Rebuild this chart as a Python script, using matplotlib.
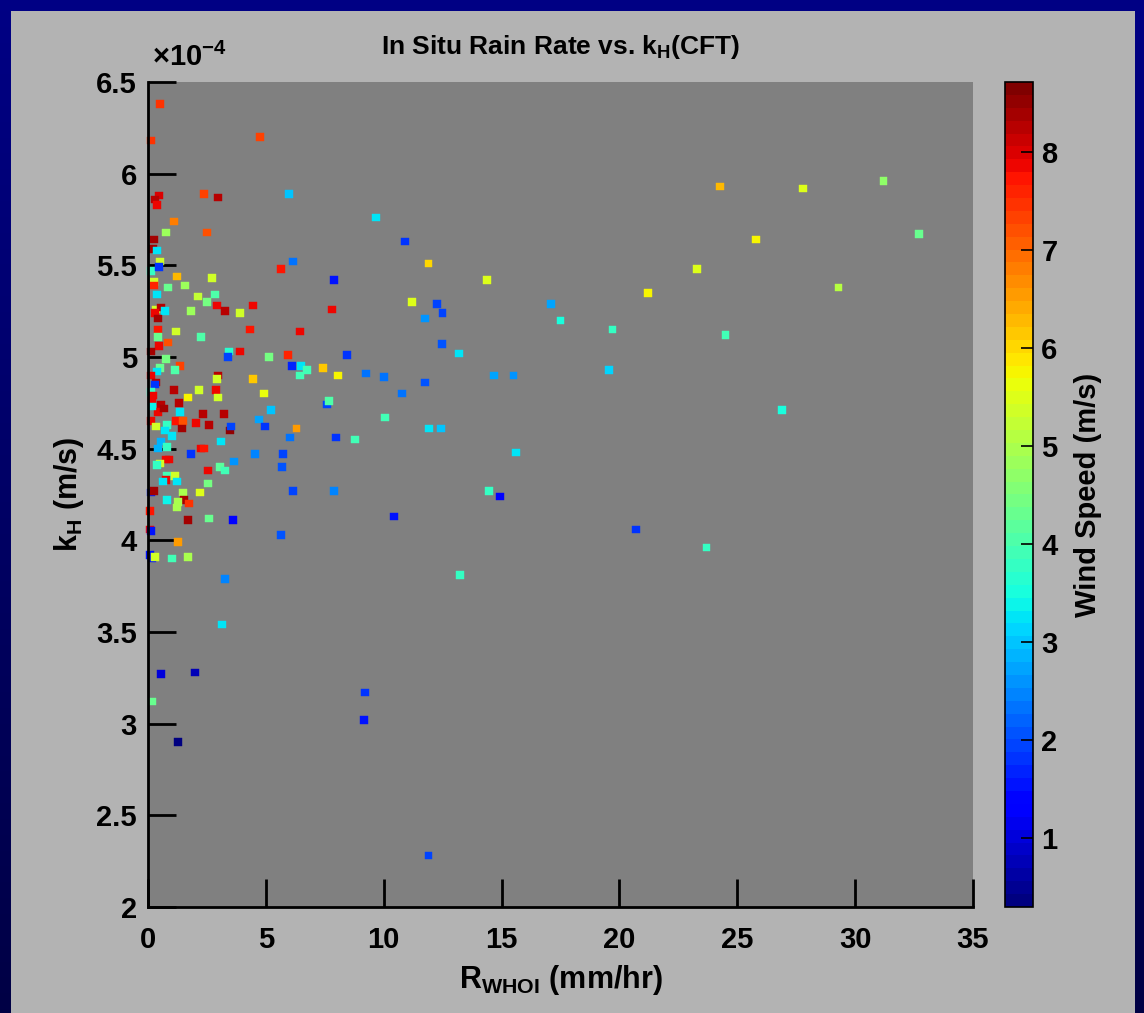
import numpy as np
import matplotlib
matplotlib.use("Agg")
import matplotlib.pyplot as plt
from matplotlib.patches import Rectangle
from matplotlib.ticker import FuncFormatter, MultipleLocator

plt.rcParams['font.family'] = ['Liberation Sans', 'DejaVu Sans']
plt.rcParams['font.weight'] = 'bold'
plt.rcParams['mathtext.fontset'] = 'custom'
plt.rcParams['mathtext.rm'] = 'Liberation Sans:bold'
plt.rcParams['mathtext.it'] = 'Liberation Sans:bold'
plt.rcParams['mathtext.bf'] = 'Liberation Sans:bold'

# rain rate (mm/hr), gas transfer velocity (1e-4 m/s), wind speed (m/s)
rain = [
    4.75, 2.97, 2.38, 5.98, 9.67, 10.9, 11.9, 6.15, 5.64, 7.9, 14.38, 11.2,
    12.26, 12.5, 11.75, 17.1, 17.5, 7.8, 6.45, 24.27, 27.8, 31.2, 32.7, 25.8,
    23.3, 21.2, 29.3, 19.7, 24.5, 19.55, 26.9, 20.7, 23.7,
    12.47, 13.2, 5.94, 8.44, 6.1, 6.5, 6.74, 6.45, 7.42, 8.06, 9.25, 10.0,
    11.75, 14.68, 15.5, 10.78, 7.6, 7.68, 10.05, 11.92, 12.43, 6.3, 6.02,
    7.98, 8.78, 5.73, 5.68, 15.6, 6.15, 7.9, 14.47, 14.93, 10.44, 5.64, 13.24,
    3.27, 3.14, 0.55, 2.0, 0.17, 1.27, 9.2, 9.16, 11.9,
    0.51, 0.13, 0.47, 0.3, 0.38, 1.1, 0.76, 2.5, 0.25, 0.21, 0.38, 0.51,
    0.13, 0.47, 0.25, 0.25, 1.23, 2.72, 0.85, 1.57, 0.38, 2.12, 2.84, 2.5,
    0.34, 0.55, 0.3, 0.72, 1.82, 2.93, 3.27, 3.9, 4.45, 0.42, 0.42, 1.19,
    2.25, 4.33,
    0.42, 0.47, 0.85, 0.13, 0.76, 3.44, 3.4, 3.9, 5.13, 0.51, 1.36, 1.14,
    0.38, 0.13, 2.97, 2.93, 0.34, 0.3, 4.45, 1.1, 2.16, 2.88, 4.92, 0.13,
    0.21, 1.7, 2.97, 0.17, 0.55, 1.32, 0.42, 0.68, 1.36, 0.17, 2.33, 3.22,
    5.22, 4.71, 0.13, 1.19, 1.48, 2.04, 2.59, 1.44, 3.48, 3.52, 4.96, 0.34,
    0.8, 0.72, 1.02, 0.55, 0.8, 0.42, 3.1, 1.82, 2.25, 2.38, 0.76, 0.89,
    0.51, 0.38, 3.65, 4.54, 2.55, 3.06, 3.27, 0.8, 1.14, 0.76, 0.64, 1.23,
    2.55, 0.13, 0.25, 1.48, 2.21, 1.53, 1.27, 1.74, 0.8, 1.23, 1.7, 2.59,
    3.6, 0.08, 0.08, 0.13, 1.27, 0.08, 0.17, 0.3, 1.02, 1.7,
]
kh_e4 = [
    6.20, 5.87, 5.89, 5.89, 5.76, 5.63, 5.51, 5.52, 5.48, 5.42, 5.42, 5.30,
    5.29, 5.24, 5.21, 5.29, 5.20, 5.26, 5.14, 5.93, 5.92, 5.96, 5.67, 5.64,
    5.48, 5.35, 5.38, 5.15, 5.12, 4.93, 4.71, 4.06, 3.96,
    5.07, 5.02, 5.01, 5.01, 4.95, 4.95, 4.93, 4.90, 4.94, 4.90, 4.91, 4.89,
    4.86, 4.90, 4.90, 4.80, 4.74, 4.76, 4.67, 4.61, 4.61, 4.61, 4.56,
    4.56, 4.55, 4.47, 4.40, 4.48, 4.27, 4.27, 4.27, 4.24, 4.13, 4.03, 3.81,
    3.79, 3.54, 3.27, 3.28, 3.12, 2.90, 3.17, 3.02, 2.28,
    6.38, 6.18, 5.88, 5.86, 5.83, 5.74, 5.68, 5.68, 5.64, 5.59, 5.58, 5.52,
    5.47, 5.49, 5.41, 5.39, 5.44, 5.43, 5.38, 5.39, 5.34, 5.33, 5.34, 5.30,
    5.26, 5.27, 5.24, 5.25, 5.25, 5.28, 5.25, 5.24, 5.28, 5.21, 5.15, 5.14,
    5.11, 5.15,
    5.11, 5.06, 5.08, 5.03, 4.99, 5.03, 5.00, 5.03, 5.00, 4.94, 4.95, 4.93,
    4.92, 4.90, 4.90, 4.88, 4.86, 4.85, 4.88, 4.82, 4.82, 4.82, 4.80, 4.81,
    4.79, 4.78, 4.78, 4.76, 4.74, 4.75, 4.70, 4.72, 4.70, 4.73, 4.69, 4.69,
    4.71, 4.66, 4.65, 4.65, 4.65, 4.64, 4.63, 4.61, 4.60, 4.62, 4.62, 4.62,
    4.63, 4.60, 4.57, 4.54, 4.51, 4.50, 4.54, 4.47, 4.50, 4.50, 4.44, 4.44,
    4.42, 4.41, 4.43, 4.47, 4.38, 4.40, 4.38, 4.35, 4.35, 4.33, 4.32, 4.32,
    4.31, 4.26, 4.27, 4.26, 4.26, 4.22, 4.21, 4.20, 4.22, 4.18, 4.11, 4.12,
    4.11, 4.16, 4.06, 4.05, 3.99, 3.92, 3.90, 3.91, 3.90, 3.91,
]
wind = [
    7.3, 8.3, 7.3, 3.0, 3.3, 1.8, 6.0, 2.4, 7.7, 1.5, 5.5, 5.5,
    1.9, 2.0, 2.6, 2.7, 3.5, 7.8, 7.8, 6.3, 5.5, 4.7, 4.3, 5.8,
    5.5, 5.8, 5.1, 3.8, 3.9, 3.1, 3.5, 1.8, 3.8,
    2.1, 3.3, 7.6, 1.8, 1.7, 3.3, 3.9, 3.9, 6.1, 5.7, 2.4, 2.4,
    2.1, 2.7, 2.6, 2.4, 2.0, 4.1, 3.9, 3.2, 3.0, 6.6, 2.3,
    1.8, 3.9, 2.0, 2.1, 3.3, 2.0, 2.5, 3.8, 1.3, 1.6, 2.1, 3.8,
    2.5, 3.3, 1.0, 0.8, 4.3, 0.4, 1.8, 1.6, 2.0,
    7.5, 7.4, 8.0, 8.3, 7.9, 6.8, 4.8, 7.2, 8.4, 8.4, 3.3, 5.3,
    3.8, 1.8, 5.3, 7.6, 6.3, 5.4, 4.3, 4.8, 3.3, 5.2, 4.1, 4.4,
    5.3, 8.3, 7.8, 3.3, 4.8, 7.8, 8.2, 5.3, 7.8, 8.4, 7.7, 5.3,
    4.0, 7.7,
    4.3, 7.8, 7.2, 8.4, 4.4, 3.6, 2.0, 7.8, 4.4, 4.3, 7.3, 4.0,
    3.3, 7.8, 8.3, 5.4, 8.3, 1.8, 6.1, 8.2, 5.4, 7.8, 5.6, 3.8,
    7.8, 5.8, 5.4, 7.8, 8.3, 8.3, 7.8, 8.4, 3.3, 3.4, 8.3, 8.2,
    3.0, 2.7, 7.8, 7.7, 7.2, 7.8, 8.2, 8.4, 8.5, 2.0, 1.8, 5.4,
    3.8, 3.3, 3.3, 2.8, 3.8, 2.9, 3.3, 1.8, 7.8, 7.7, 7.8, 7.9,
    5.4, 3.8, 2.6, 2.5, 7.8, 4.2, 3.9, 3.9, 5.3, 7.8, 3.3, 3.3,
    4.4, 1.7, 8.4, 5.0, 5.5, 8.4, 5.0, 7.5, 3.4, 5.0, 8.4, 4.3,
    1.4, 7.7, 7.8, 1.6, 6.5, 1.5, 1.6, 5.4, 3.9, 5.0,
]

W, H = 1144, 1013
fig = plt.figure(figsize=(W / 100, H / 100), dpi=100)

# navy slide background with a grey panel
bg = fig.add_axes([0, 0, 1, 1], zorder=-10)
grad = np.linspace(0, 1, 256).reshape(-1, 1)
bg.imshow(np.dstack([np.zeros_like(grad), np.zeros_like(grad),
                     0.52 - 0.25 * grad]), aspect='auto', extent=[0, 1, 0, 1])
bg.add_patch(Rectangle((11 / W, 0), (1135 - 11) / W, 1 - 11 / H,
                       facecolor='#b3b3b3', edgecolor='none'))
bg.set_xlim(0, 1)
bg.set_ylim(0, 1)
bg.axis('off')

ax = fig.add_axes([148 / W, 1 - 907 / H, (973 - 148) / W, (907 - 82) / H])
ax.set_facecolor('#808080')

cmap = plt.get_cmap('jet', 64)
sc = ax.scatter(rain, np.array(kh_e4) * 1e-4, c=wind, cmap=cmap,
                vmin=0.3, vmax=8.71, marker='s', s=30, linewidths=0.3,
                edgecolors='face', clip_on=False, zorder=3)

ax.set_xlim(0, 35)
ax.set_ylim(2e-4, 6.5e-4)
ax.xaxis.set_major_locator(MultipleLocator(5))
ax.yaxis.set_major_locator(MultipleLocator(0.5e-4))
ax.yaxis.set_major_formatter(FuncFormatter(lambda v, p: f'{v * 1e4:g}'))
for s in ('top', 'right'):
    ax.spines[s].set_visible(False)
for s in ('left', 'bottom'):
    ax.spines[s].set_linewidth(2)
    ax.spines[s].set_zorder(4)
ax.tick_params(direction='in', length=20, width=2, labelsize=21)
ax.tick_params(axis='x', pad=14)
ax.tick_params(axis='y', pad=8)

ax.text(0.005, 1.012, r'$\times$10$^{-4}$', transform=ax.transAxes,
        fontsize=21, fontweight='bold', ha='left', va='bottom')
ax.set_title(r'In Situ Rain Rate vs. k$_{\mathrm{H}}$(CFT)', fontsize=19,
             fontweight='bold', pad=20)
ax.set_xlabel(r'R$_{\mathrm{WHOI}}$ (mm/hr)', fontsize=22, fontweight='bold')
ax.set_ylabel(r'k$_{\mathrm{H}}$ (m/s)', fontsize=22, fontweight='bold')
ax.xaxis.set_label_coords(0.5, -0.068)
ax.yaxis.set_label_coords(-0.075, 0.5)

cax = fig.add_axes([1005 / W, 1 - 907 / H, 28 / W, (907 - 82) / H])
cb = fig.colorbar(sc, cax=cax)
cb.set_ticks(range(1, 9))
cb.outline.set_linewidth(1.2)
cax.tick_params(direction='in', length=9, width=1.2, labelsize=21, pad=6)
cb.set_label('Wind Speed (m/s)', fontsize=21, fontweight='bold', labelpad=12)

fig.savefig('out.png', dpi=100, facecolor='#000080')
